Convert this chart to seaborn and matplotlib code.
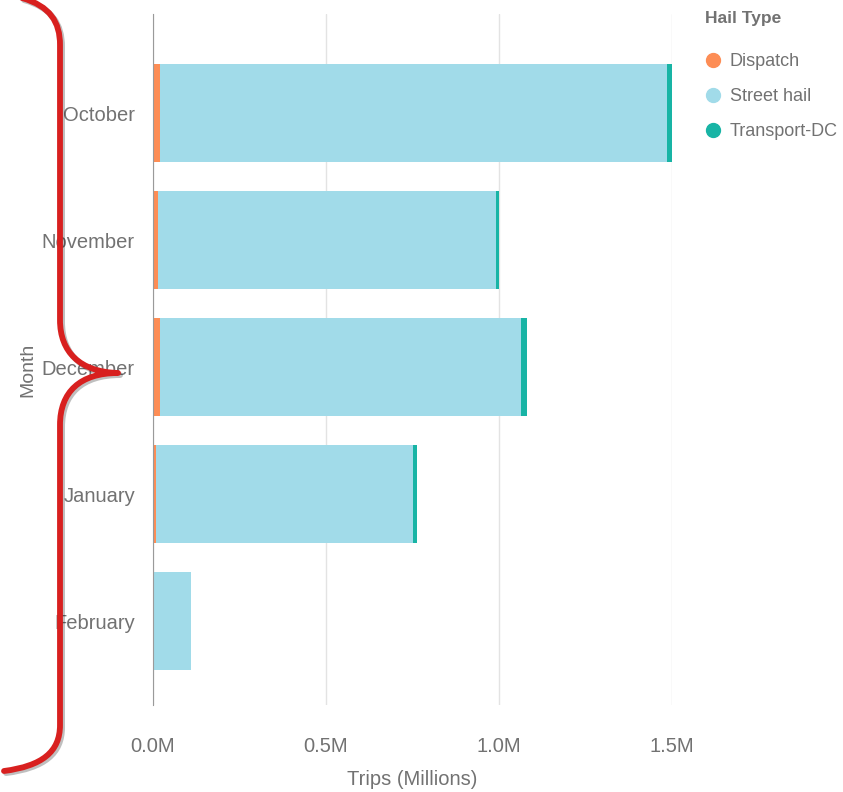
import seaborn as sns
import matplotlib.pyplot as plt
import numpy as np
import pandas as pd
from matplotlib.path import Path
from matplotlib.patches import PathPatch
from matplotlib.lines import Line2D
from matplotlib.ticker import FuncFormatter
import matplotlib.patheffects as pe

# Trips per month by hail type (millions)
months = ["October", "November", "December", "January", "February"]
dispatch = [0.020, 0.015, 0.020, 0.008, 0.0]
street_hail = [1.466, 0.977, 1.044, 0.744, 0.110]
transport_dc = [0.014, 0.008, 0.017, 0.010, 0.0]

hail_types = ["Dispatch", "Street hail", "Transport-DC"]
colors = ["#fd8d55", "#a1dbe9", "#18b4a5"]

df = pd.DataFrame({"Month": months, "Dispatch": dispatch,
                   "Street hail": street_hail, "Transport-DC": transport_dc})
# cumulative ends so the stacked bars can be drawn back to front
df["cum1"] = df["Dispatch"]
df["cum2"] = df["cum1"] + df["Street hail"]
df["cum3"] = df["cum2"] + df["Transport-DC"]

sns.set_style("white")
plt.rcParams['font.family'] = ['Liberation Sans', 'DejaVu Sans']

W, H = 843, 792
fig = plt.figure(figsize=(W / 100, H / 100), dpi=100)
ax = fig.add_axes([153 / W, 1 - 705 / H, (672 - 153) / W, (705 - 14) / H])

for col, c in zip(["cum3", "cum2", "cum1"], colors[::-1]):
    sns.barplot(data=df, x=col, y="Month", color=c, width=0.77,
                saturation=1, ax=ax, orient="h", zorder=3, linewidth=0)

ax.set_xlim(0, 1.5)
ax.set_ylim(4.66, -0.78)
ax.set_xticks([0, 0.5, 1.0, 1.5])
ax.xaxis.set_major_formatter(FuncFormatter(lambda v, p: f"{v:.1f}M"))
ax.grid(axis="x", color="#e3e3e3", linewidth=1, zorder=0)
ax.grid(axis="y", visible=False)
for s in ["top", "right", "bottom"]:
    ax.spines[s].set_visible(False)
ax.spines["left"].set_color("#9a9a9a")
ax.spines["left"].set_zorder(4)
ax.tick_params(axis="both", length=0, labelsize=14.5, colors="#727272")
ax.tick_params(axis="x", pad=23)
ax.tick_params(axis="y", pad=13)

ax.set_xlabel("Trips (Millions)", fontsize=14.5, color="#727272", labelpad=10)
ax.set_ylabel("Month", fontsize=14, color="#727272")
ax.yaxis.set_label_coords(-0.225, 0.485)

# legend: title as separate text so the gap below it matches
fig.text(705 / W, 1 - 19 / H, "Hail Type", fontsize=12.5, fontweight="bold",
         color="#727272", ha="left", va="center")
handles = [Line2D([0], [0], marker="o", linestyle="", markersize=10,
                  markerfacecolor=c, markeredgecolor=c) for c in colors]
leg = fig.legend(handles, hail_types, loc="upper left",
                 bbox_to_anchor=(683 / W, 1 - 37 / H), frameon=False,
                 fontsize=13, handletextpad=0.2,
                 labelspacing=1.0, handlelength=1.5)
for t in leg.get_texts():
    t.set_color("#727272")

# red curly brace drawn over the left side
def px(x, y):
    return (x / W, 1 - y / H)

verts = [px(22, -2), px(50, 6), px(60, 22), px(60, 45),
         px(60, 320),
         px(60, 352), px(80, 372), px(118, 373),
         px(80, 373), px(60, 392), px(60, 425),
         px(60, 725),
         px(60, 752), px(42, 766), px(4, 771)]
codes = [Path.MOVETO, Path.CURVE4, Path.CURVE4, Path.CURVE4,
         Path.LINETO,
         Path.CURVE4, Path.CURVE4, Path.CURVE4,
         Path.CURVE4, Path.CURVE4, Path.CURVE4,
         Path.LINETO,
         Path.CURVE4, Path.CURVE4, Path.CURVE4]
brace = PathPatch(Path(verts, codes), transform=fig.transFigure,
                  facecolor="none", edgecolor="#d8201f", linewidth=4.2,
                  capstyle="round", joinstyle="round", zorder=10)
brace.set_path_effects([pe.SimpleLineShadow(offset=(1.5, -1.5), alpha=0.25),
                        pe.Normal()])
fig.add_artist(brace)

fig.savefig("out.png", dpi=100)
